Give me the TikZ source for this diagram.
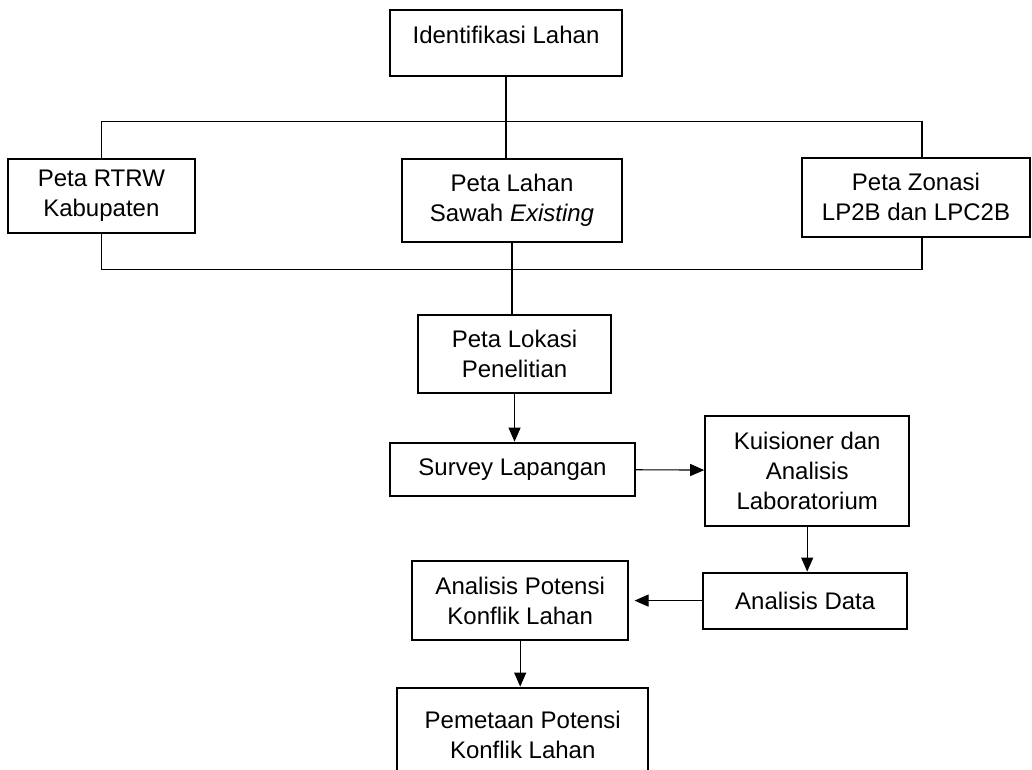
\documentclass[tikz,border=0pt]{standalone}
\usepackage{fontspec}
\setmainfont{Liberation Sans}
\usepackage{tikz}
\usetikzlibrary{shapes,arrows.meta,positioning,calc}

\begin{document}
\begin{tikzpicture}[x=0.75pt, y=-0.75pt, auto, node distance=2cm, >={Triangle[length=10.5pt,width=9pt]}]

% Define block styles
\tikzstyle{block} = [draw, rectangle, line width=1.5pt, align=center, inner sep=2pt, font=\fontsize{18pt}{22.5pt}\selectfont]
\tikzstyle{link} = [line width=0.8pt]

\useasboundingbox (0,0) rectangle (1032,770);

% Nodes
\node [block, minimum width=174pt, text height=25.5pt, text depth=24pt, inner ysep=0pt] at (506,43) (ident) {Identifikasi Lahan};
\node [block, below of=ident, node distance=118pt, xshift=4.5pt, minimum width=165pt, minimum height=62.25pt] (lahan) {Peta Lahan\\Sawah \textit{Existing}};
\node [block, left of=lahan, node distance=308pt, yshift=3.4pt, minimum width=140.25pt, minimum height=55.5pt] (rtrw) {Peta RTRW\\Kabupaten};
\node [block, right of=lahan, node distance=303pt, yshift=2.2pt, minimum width=171pt, minimum height=59.25pt] (zonasi) {Peta Zonasi\\LP2B dan LPC2B};
\node [coordinate, above of=lahan, node distance=59.25pt] (topbus) {}; % Upper branch line
\node [coordinate, below of=lahan, node distance=51.75pt] (botbus) {}; % Lower join line
\node [block, below of=lahan, node distance=115pt, xshift=1.9pt, minimum width=144.75pt, minimum height=58.5pt] (lokasi) {Peta Lokasi\\Penelitian};
\node [block, below of=lokasi, node distance=86.6pt, xshift=-1.5pt, minimum width=183.75pt, minimum height=39.75pt] (survey) {Survey Lapangan};
\node [block, right of=survey, node distance=221pt, yshift=-1.1pt, minimum width=153pt, minimum height=82.5pt] (kuisioner) {Kuisioner dan\\Analisis\\Laboratorium};
\node [block, below of=kuisioner, node distance=97.5pt, xshift=-1.5pt, minimum width=153pt, minimum height=42pt] (data) {Analisis Data};
\node [block, left of=data, node distance=213.75pt, minimum width=162pt, minimum height=59.25pt] (potensi) {Analisis Potensi\\Konflik Lahan};
\node [block, below of=potensi, node distance=100.5pt, xshift=1.9pt, minimum width=188.25pt, minimum height=70.5pt] (pemetaan) {Pemetaan Potensi\\Konflik Lahan};

% Connections
\draw [link] (ident.south) -- (ident.south |- lahan.north); % Identifikasi down to Peta Lahan
\draw [link] (rtrw.north) |- (topbus) -| ([xshift=4.5pt]zonasi.north); % Branch to the three maps
\draw [link] (rtrw.south) |- (botbus) -| ([xshift=4.5pt]zonasi.south); % Maps joined again
\draw [link] (lahan.south) -- (lahan.south |- lokasi.north); % Join to Peta Lokasi
\draw [link, ->] (lokasi.south) -- (lokasi.south |- survey.north);
\draw [link, ->] (survey) -- (kuisioner);
\draw [link, ->] (kuisioner.south) -- (kuisioner.south |- data.north);
\draw [link, ->, shorten >=4pt] (data) -- (potensi);
\draw [link, ->] (potensi.south) -- (potensi.south |- pemetaan.north);

\end{tikzpicture}
\end{document}
